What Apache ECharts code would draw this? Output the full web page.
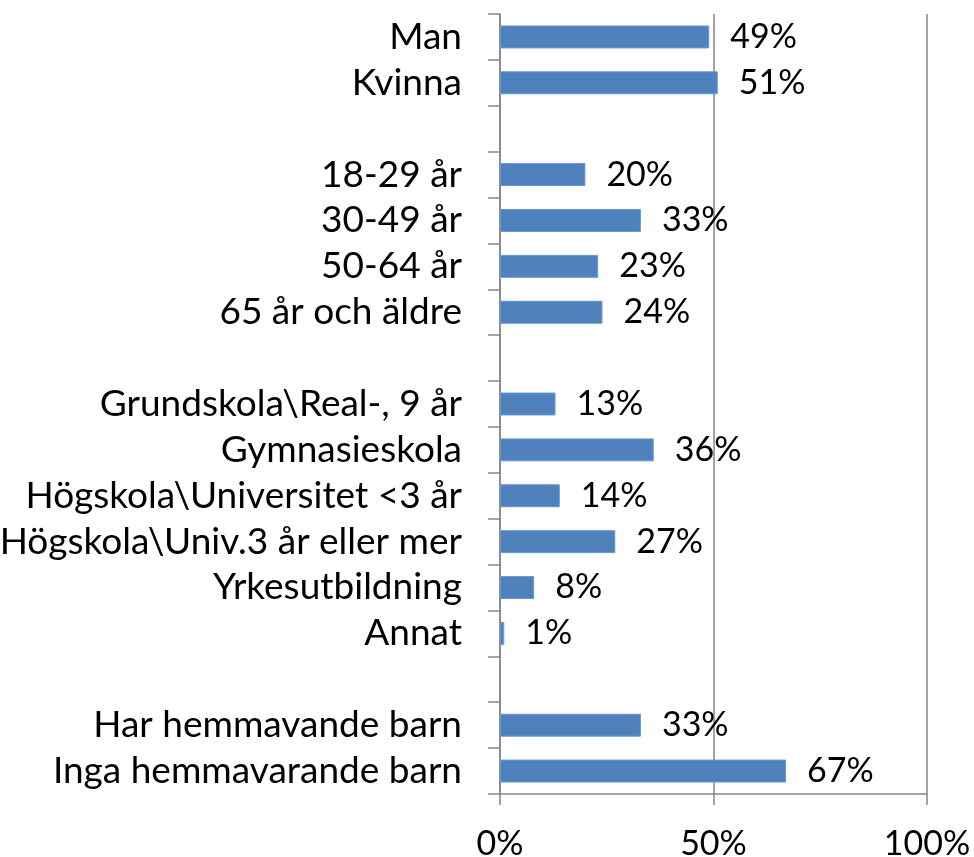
<!DOCTYPE html>
<html>
<head>
<meta charset="utf-8">
<script src="https://cdn.jsdelivr.net/npm/echarts@6/dist/echarts.min.js"></script>
<style>
  html, body { margin: 0; padding: 0; background: #ffffff; }
  #chart { width: 974px; height: 857px; }
</style>
</head>
<body>
<div id="chart"></div>
<script>
// Respondent profile: share (%) per group; empty names are spacer rows between groups
const categories = [
  'Man', 'Kvinna', '',
  '18-29 år', '30-49 år', '50-64 år', '65 år och äldre', '',
  'Grundskola\\Real-, 9 år', 'Gymnasieskola', 'Högskola\\Universitet <3 år',
  'Högskola\\Univ.3 år eller mer', 'Yrkesutbildning', 'Annat', '',
  'Har hemmavande barn', 'Inga hemmavarande barn'
];
const shares = [
  49, 51, null,
  20, 33, 23, 24, null,
  13, 36, 14, 27, 8, 1, null,
  33, 67
];
const xTicks = [0, 50, 100];

const FONT = 'Lato, "Liberation Sans", sans-serif';
const chart = echarts.init(document.getElementById('chart'));
chart.setOption({
  animation: false,
  grid: { left: 500, right: 47, top: 14, bottom: 63, containLabel: false, outerBoundsMode: 'none' },
  xAxis: {
    type: 'value',
    min: xTicks[0], max: xTicks[xTicks.length - 1], interval: 50,
    axisLine: { show: true, lineStyle: { color: '#868686', width: 1.5 } },
    axisTick: { show: true, length: 11, lineStyle: { color: '#868686', width: 1.5 } },
    splitLine: { show: true, lineStyle: { color: '#868686', width: 1.5 } },
    axisLabel: { formatter: '{value}%', color: '#000', fontSize: 34, fontFamily: FONT, margin: 33 }
  },
  yAxis: {
    type: 'category',
    inverse: true,
    data: categories,
    axisLine: { show: true, lineStyle: { color: '#868686', width: 1.5 } },
    axisTick: { show: true, length: 12, lineStyle: { color: '#868686', width: 1.5 } },
    axisLabel: { color: '#000', fontSize: 37, fontFamily: FONT, margin: 38, interval: 0 }
  },
  series: [{
    type: 'bar',
    data: shares,
    barCategoryGap: '50%',
    itemStyle: { color: '#4F81BD', borderColor: '#6B97CF', borderWidth: 1 },
    label: {
      show: true, position: 'right', distance: 21,
      formatter: p => p.value == null ? '' : p.value + '%',
      color: '#000', fontSize: 34, fontFamily: FONT
    }
  }]
});
</script>
</body>
</html>
